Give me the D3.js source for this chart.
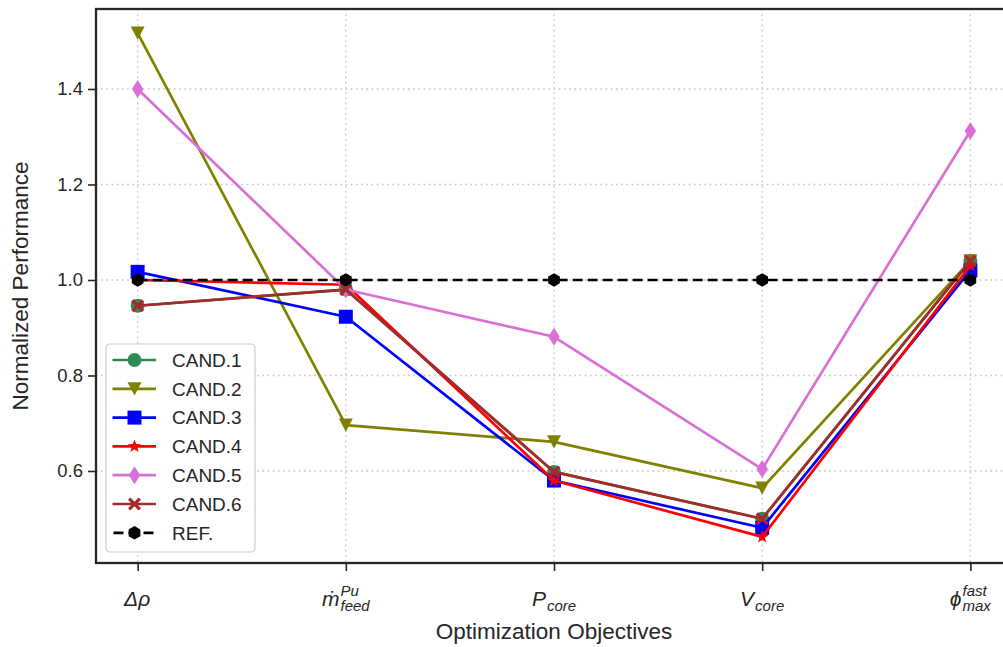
<!DOCTYPE html>
<html>
<head>
<meta charset="utf-8">
<script src="https://cdn.jsdelivr.net/npm/d3@7"></script>
<style>
  html, body { margin: 0; padding: 0; background: #fff; overflow: hidden; }
  svg { display: block; }
  text { font-family: "Liberation Sans", Arial, sans-serif; fill: #262626; }
</style>
</head>
<body>
<script>
// Objectives along the x axis (rendered as math-style labels)
const objectives = ["drho", "mfeed", "Pcore", "Vcore", "phimax"];
const tickBase = ["Δρ", "ṁ", "P", "V", "ϕ"];
const tickSup  = ["", "Pu", "", "", "fast"];
const tickSub  = ["", "feed", "core", "core", "max"];

const yTicks = [0.6, 0.8, 1.0, 1.2, 1.4];

// Normalized performance of each candidate per objective
const cand1 = [0.946, 0.980, 0.598, 0.500, 1.040];
const cand2 = [1.517, 0.696, 0.661, 0.564, 1.040];
const cand3 = [1.017, 0.923, 0.580, 0.481, 1.020];
const cand4 = [1.000, 0.990, 0.580, 0.462, 1.030];
const cand5 = [1.400, 0.980, 0.881, 0.604, 1.312];
const cand6 = [0.946, 0.980, 0.598, 0.500, 1.040];
const ref   = [1.000, 1.000, 1.000, 1.000, 1.000];

const seriesNames = ["CAND.1", "CAND.2", "CAND.3", "CAND.4", "CAND.5", "CAND.6", "REF."];
const seriesValues = [cand1, cand2, cand3, cand4, cand5, cand6, ref];
const seriesColors = ["#2e8b57", "#808000", "#0000ff", "#ff0000", "#da70d6", "#a52a2a", "#000000"];
const seriesMarkers = ["circle", "triangleDown", "square", "star", "thinDiamond", "xFilled", "hexagon"];

const W = 1003, H = 647;
const svg = d3.select("body").append("svg").attr("width", W).attr("height", H);

const plot = { left: 96, right: 1012, top: 9, bottom: 563 };

const x = d3.scaleLinear().domain([-0.2, objectives.length - 1 + 0.2]).range([plot.left, plot.right]);
const y = d3.scaleLinear().domain([0.4073, 1.5675]).range([plot.bottom, plot.top]);

// Grid
const grid = svg.append("g").attr("stroke", "#c4c4c4").attr("stroke-width", 1.3).attr("stroke-dasharray", "1.6,3.6");
grid.selectAll(".gx").data(objectives.map((d, i) => i)).join("line")
  .attr("x1", d => x(d)).attr("x2", d => x(d)).attr("y1", plot.top).attr("y2", plot.bottom);
grid.selectAll(".gy").data(yTicks).join("line")
  .attr("x1", plot.left).attr("x2", plot.right).attr("y1", d => y(d)).attr("y2", d => y(d));

// Marker shapes
function markerPath(kind, s) {
  const r = s / 2;
  switch (kind) {
    case "circle": return d3.symbol(d3.symbolCircle, Math.PI * r * r)();
    case "square": return `M${-r},${-r}H${r}V${r}H${-r}Z`;
    case "triangleDown": {
      const h = s * 0.95;
      return `M${-r},${-h / 2}L${r},${-h / 2}L0,${h / 2}Z`;
    }
    case "thinDiamond": {
      const w = s * 0.33, hh = s * 0.52;
      return `M0,${-hh}L${w},0L0,${hh}L${-w},0Z`;
    }
    case "star": {
      const ro = r, ri = ro * 0.42;
      let p = "";
      for (let k = 0; k < 10; k++) {
        const a = -Math.PI / 2 + k * Math.PI / 5;
        const rr = k % 2 === 0 ? ro : ri;
        p += (k === 0 ? "M" : "L") + (rr * Math.cos(a)).toFixed(2) + "," + (rr * Math.sin(a)).toFixed(2);
      }
      return p + "Z";
    }
    case "xFilled": {
      const a = r, b = r * 0.36;
      const pts = [[0,-b],[a-b,-a],[a,-a+b],[b,0],[a,a-b],[a-b,a],[0,b],[-a+b,a],[-a,a-b],[-b,0],[-a,-a+b],[-a+b,-a]];
      return "M" + pts.map(p => p.join(",")).join("L") + "Z";
    }
    case "hexagon": {
      let p = "";
      for (let k = 0; k < 6; k++) {
        const a = -Math.PI / 2 + k * Math.PI / 3;
        p += (k === 0 ? "M" : "L") + (r * Math.cos(a)).toFixed(2) + "," + (r * Math.sin(a)).toFixed(2);
      }
      return p + "Z";
    }
  }
}
const markerSize = { circle: 14, square: 14, triangleDown: 14, thinDiamond: 33 / 1.9, star: 14, xFilled: 13, hexagon: 13.5 };

// Series
const line = d3.line().x((d, i) => x(i)).y(d => y(d));
svg.append("clipPath").attr("id", "plotclip").append("rect")
  .attr("x", plot.left).attr("y", plot.top).attr("width", plot.right - plot.left).attr("height", plot.bottom - plot.top);

seriesValues.forEach((vals, si) => {
  const g = svg.append("g").attr("clip-path", "url(#plotclip)");
  g.append("path").datum(vals).attr("d", line)
    .attr("fill", "none").attr("stroke", seriesColors[si]).attr("stroke-width", 2.7)
    .attr("stroke-linejoin", "round")
    .attr("stroke-dasharray", si === seriesValues.length - 1 ? "10,5" : null);
  g.selectAll("path.m").data(vals).join("path").attr("class", "m")
    .attr("transform", (d, i) => `translate(${x(i)},${y(d)})`)
    .attr("d", markerPath(seriesMarkers[si], markerSize[seriesMarkers[si]]))
    .attr("fill", seriesColors[si]);
});

// Spines
const spine = svg.append("g").attr("stroke", "#262626").attr("stroke-width", 2.3).attr("fill", "none");
spine.append("rect").attr("x", plot.left).attr("y", plot.top)
  .attr("width", plot.right - plot.left).attr("height", plot.bottom - plot.top);

// Y axis
const yAxis = svg.append("g").attr("transform", `translate(${plot.left},0)`)
  .call(d3.axisLeft(y).tickValues(yTicks).tickFormat(d3.format(".1f")).tickSize(8).tickPadding(5));
yAxis.select(".domain").remove();
yAxis.selectAll(".tick line").attr("stroke", "#262626").attr("stroke-width", 1.6);
yAxis.selectAll(".tick text").style("font-family", '"Liberation Sans", Arial, sans-serif')
  .style("font-size", "18.5px").attr("fill", "#262626");

// X axis
const xAxis = svg.append("g").attr("transform", `translate(0,${plot.bottom})`)
  .call(d3.axisBottom(x).tickValues(objectives.map((d, i) => i)).tickFormat("").tickSize(8));
xAxis.select(".domain").remove();
xAxis.selectAll(".tick line").attr("stroke", "#262626").attr("stroke-width", 1.6);

// Math-style tick labels
const mathFont = '"Liberation Sans", Arial, sans-serif';
objectives.forEach((o, i) => {
  const g = svg.append("g").attr("transform", `translate(${x(i)},606)`);
  const base = g.append("text").text(tickBase[i]).attr("font-style", "italic")
    .style("font-family", mathFont).style("font-size", "21px");
  const bw = base.node().getComputedTextLength();
  let sw = 0, pw = 0;
  let sub, sup;
  if (tickSub[i]) {
    sub = g.append("text").text(tickSub[i]).attr("font-style", "italic")
      .style("font-family", mathFont).style("font-size", "15px").attr("y", 5);
    sw = sub.node().getComputedTextLength();
  }
  if (tickSup[i]) {
    sup = g.append("text").text(tickSup[i]).attr("font-style", "italic")
      .style("font-family", mathFont).style("font-size", "15px").attr("y", -10);
    pw = sup.node().getComputedTextLength();
  }
  const total = bw + 1 + Math.max(sw, pw);
  const x0 = -total / 2;
  base.attr("x", x0);
  if (sub) sub.attr("x", x0 + bw + 1);
  if (sup) sup.attr("x", x0 + bw + 1);
});

// Axis titles
svg.append("text").text("Optimization Objectives")
  .attr("x", x(2)).attr("y", 639).attr("text-anchor", "middle").style("font-size", "22.5px");
svg.append("text").text("Normalized Performance")
  .attr("transform", `translate(28,${(plot.top + plot.bottom) / 2}) rotate(-90)`)
  .attr("text-anchor", "middle").style("font-size", "22.5px");

// Legend
const lg = svg.append("g").attr("transform", "translate(106,344)");
lg.append("rect").attr("width", 149).attr("height", 208).attr("rx", 4)
  .attr("fill", "#fff").attr("fill-opacity", 0.85).attr("stroke", "#cccccc").attr("stroke-width", 1.2);
seriesNames.forEach((name, si) => {
  const cy = 16 + si * 28.8;
  const isRef = si === seriesNames.length - 1;
  lg.append("line").attr("x1", 6.5).attr("x2", 50).attr("y1", cy).attr("y2", cy)
    .attr("stroke", seriesColors[si]).attr("stroke-width", 2.7)
    .attr("stroke-dasharray", isRef ? "10,5" : null)
    .attr("stroke-dashoffset", isRef ? -1 : null);
  lg.append("path").attr("transform", `translate(28.5,${cy})`)
    .attr("d", markerPath(seriesMarkers[si], markerSize[seriesMarkers[si]]))
    .attr("fill", seriesColors[si]);
  lg.append("text").text(name).attr("x", 66).attr("y", cy + 6.8).style("font-size", "19px");
});
</script>
</body>
</html>
